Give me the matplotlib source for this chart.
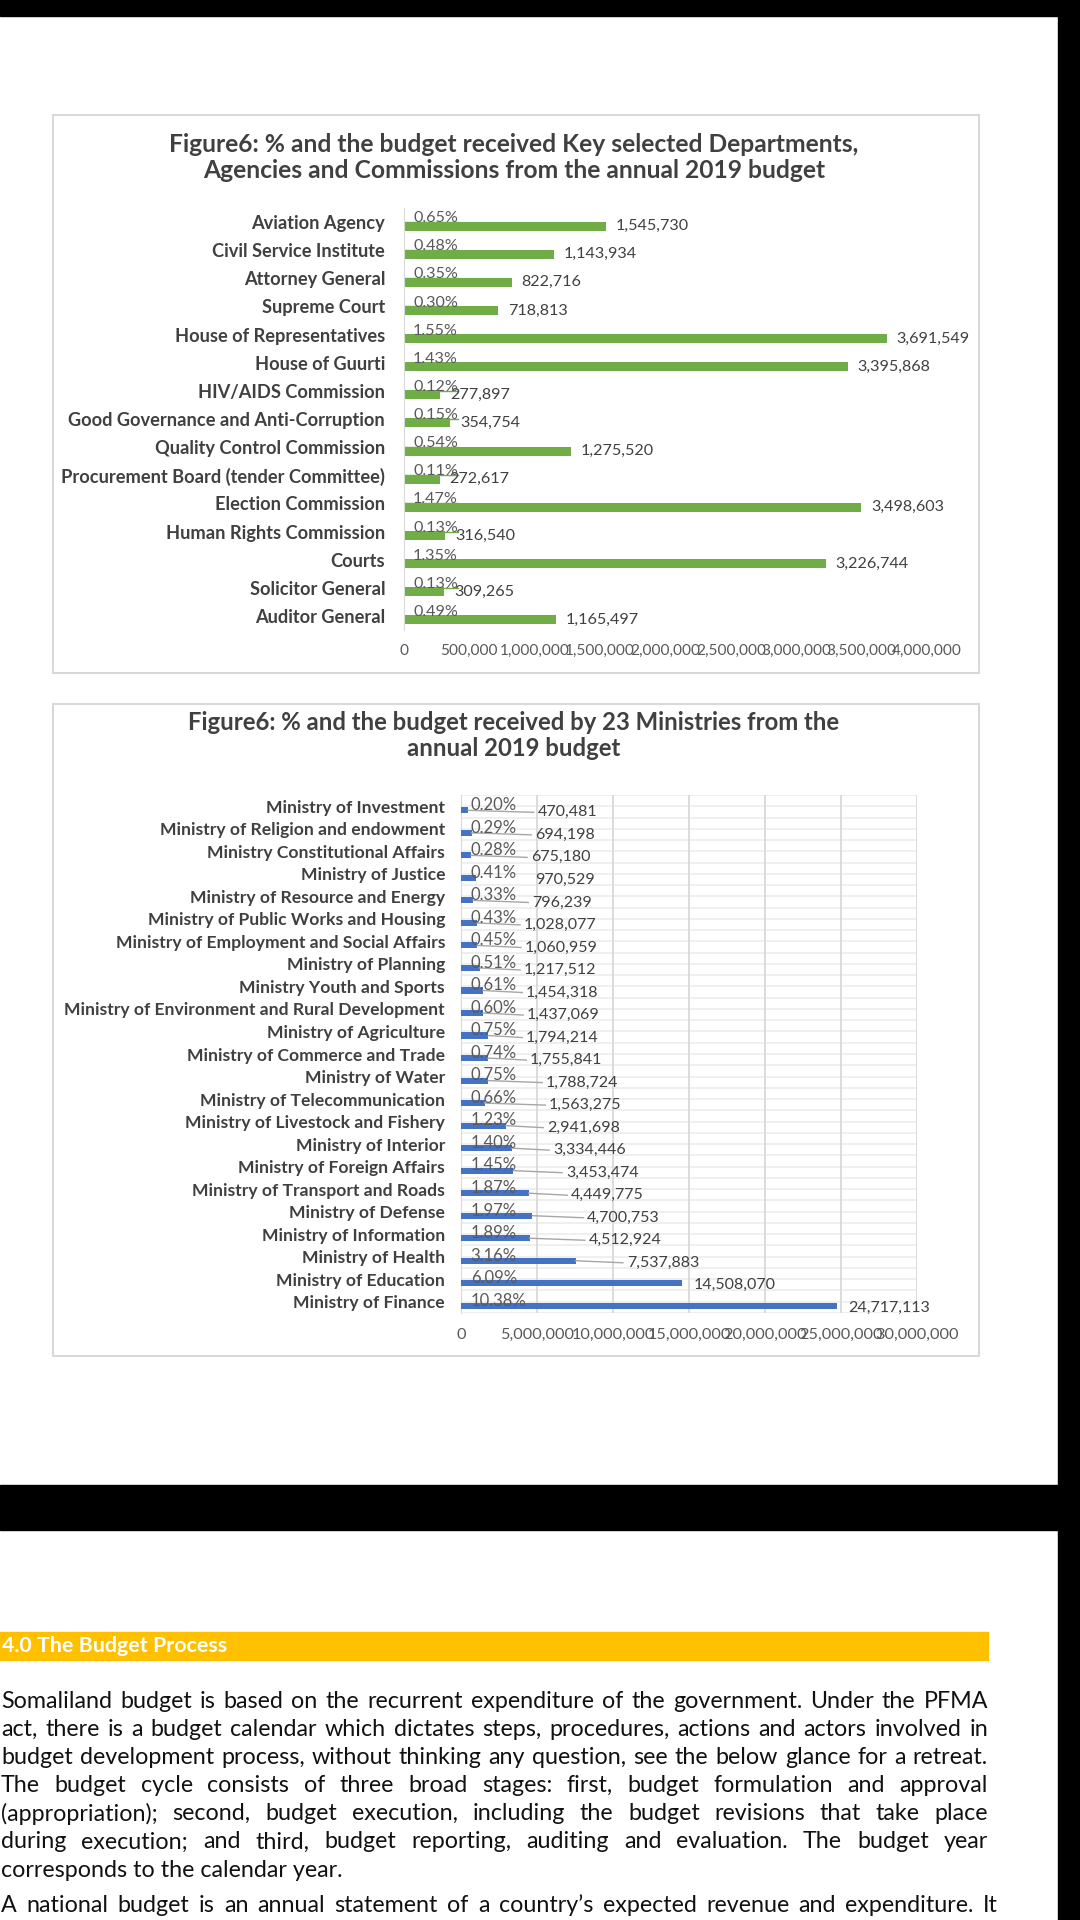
import numpy as np
import matplotlib.pyplot as plt
from matplotlib.patches import Rectangle

plt.rcParams['font.family'] = ['Lato', 'DejaVu Sans']

# chart 1 - departments, agencies and commissions
dept_names = ['Aviation Agency', 'Civil Service Institute', 'Attorney General', 'Supreme Court',
              'House of Representatives', 'House of Guurti', 'HIV/AIDS Commission',
              'Good Governance and Anti-Corruption', 'Quality Control Commission',
              'Procurement Board (tender Committee)', 'Election Commission',
              'Human Rights Commission', 'Courts', 'Solicitor General', 'Auditor General']
dept_amount = [1545730, 1143934, 822716, 718813, 3691549, 3395868, 277897, 354754,
               1275520, 272617, 3498603, 316540, 3226744, 309265, 1165497]
dept_pct = [0.65, 0.48, 0.35, 0.30, 1.55, 1.43, 0.12, 0.15, 0.54, 0.11, 1.47, 0.13, 1.35, 0.13, 0.49]

# chart 2 - ministries
min_names = ['Ministry of Investment', 'Ministry of Religion and endowment',
             'Ministry Constitutional Affairs', 'Ministry of Justice',
             'Ministry of Resource and Energy', 'Ministry of Public Works and Housing',
             'Ministry of Employment and Social Affairs', 'Ministry of Planning',
             'Ministry Youth and Sports', 'Ministry of Environment and Rural Development',
             'Ministry of Agriculture', 'Ministry of Commerce and Trade', 'Ministry of Water',
             'Ministry of Telecommunication', 'Ministry of Livestock and Fishery',
             'Ministry of Interior', 'Ministry of Foreign Affairs',
             'Ministry of Transport and Roads', 'Ministry of Defense', 'Ministry of Information',
             'Ministry of Health', 'Ministry of Education', 'Ministry of Finance']
min_amount = [470481, 694198, 675180, 970529, 796239, 1028077, 1060959, 1217512, 1454318,
              1437069, 1794214, 1755841, 1788724, 1563275, 2941698, 3334446, 3453474,
              4449775, 4700753, 4512924, 7537883, 14508070, 24717113]
min_pct = [0.20, 0.29, 0.28, 0.41, 0.33, 0.43, 0.45, 0.51, 0.61, 0.60, 0.75, 0.74, 0.75,
           0.66, 1.23, 1.40, 1.45, 1.87, 1.97, 1.89, 3.16, 6.09, 10.38]
# where the (dragged) amount labels start, in millions
min_label_at = [5.03, 4.87, 4.6, 4.87, 4.67, 4.14, 4.2, 4.14, 4.28, 4.34, 4.28, 4.54,
                5.6, 5.8, 5.66, 6.05, 6.9, 7.24, 8.3, 8.4, 10.9, 15.3, 25.5]

title1 = ['Figure6: % and the budget received Key selected Departments,',
          'Agencies and Commissions from the annual 2019 budget']
title2 = ['Figure6: % and the budget received by 23 Ministries from the',
          'annual 2019 budget']

heading = '4.0 The Budget Process'
para = ['Somaliland budget is based on the recurrent expenditure of the government. Under the PFMA',
        'act, there is a budget calendar which dictates steps, procedures, actions and actors involved in',
        'budget development process, without thinking any question, see the below glance for a retreat.',
        'The budget cycle consists of three broad stages: first, budget formulation and approval',
        '(appropriation); second, budget execution, including the budget revisions that take place',
        'during execution; and third, budget reporting, auditing and evaluation. The budget year',
        'corresponds to the calendar year.']
para2 = ['A national budget is an annual statement of a country\u2019s expected revenue and expenditure. It']

W, H = 1080, 1920
fig = plt.figure(figsize=(W / 100, H / 100), dpi=100)
page = fig.add_axes([0, 0, 1, 1])
page.set_xlim(0, W)
page.set_ylim(H, 0)
page.axis('off')
rend = fig.canvas.get_renderer()


def width_px(text, size, weight='normal'):
    t = page.text(0, 0, text, fontsize=size, fontweight=weight)
    w = t.get_window_extent(renderer=rend).width
    t.remove()
    return w


def fit(text, px, weight='normal'):
    return 10 * px / width_px(text, 10, weight)


def px_axes(l, t, r, b):
    return fig.add_axes([l / W, 1 - b / H, (r - l) / W, (b - t) / H])


# page furniture
page.add_patch(Rectangle((0, 0), W, 16, color='black'))
page.add_patch(Rectangle((1058, 0), 22, H, color='black'))
page.add_patch(Rectangle((0, 1485), 1058, 45, color='black'))
page.add_patch(Rectangle((53, 115), 926, 558, facecolor='white', edgecolor='#d9d9d9', lw=1.5))
page.add_patch(Rectangle((53, 704), 926, 652, facecolor='white', edgecolor='#d9d9d9', lw=1.5))

DARK = '#404040'
GREY = '#595959'

ts1 = fit(title1[0], 695, 'bold')
page.text(514, 144, title1[0], fontsize=ts1, fontweight='bold', color=DARK, ha='center', va='center')
page.text(514, 171, title1[1], fontsize=ts1, fontweight='bold', color=DARK, ha='center', va='center')
ts2 = fit(title2[0], 653, 'bold')
page.text(514, 722, title2[0], fontsize=ts2, fontweight='bold', color=DARK, ha='center', va='center')
page.text(514, 748, title2[1], fontsize=ts2, fontweight='bold', color=DARK, ha='center', va='center')

# ---------- chart 1 ----------
n1 = len(dept_names)
y1 = np.arange(n1)
ax1 = px_axes(404, 208, 927, 630)
ax1.patch.set_visible(False)
ax1.barh(y1 + 0.14, dept_amount, height=0.32, color='#70ad47')
ax1.set_xlim(0, 4000000)
ax1.set_ylim(n1 - 0.5, -0.5)
t1 = np.arange(0, 4000001, 500000)
ax1.set_xticks(t1)
ax1.set_xticklabels([f'{v:,}' for v in t1])
ax1.set_yticks(y1)
ax1.set_yticklabels(dept_names, fontweight='bold', color=DARK,
                    fontsize=fit('Good Governance and Anti-Corruption', 317, 'bold'))
ax1.tick_params(axis='x', length=0, pad=10, labelcolor=GREY, labelsize=fit('4,000,000', 69))
ax1.tick_params(axis='y', length=0, pad=13.5)
for s in ['top', 'right', 'bottom']:
    ax1.spines[s].set_visible(False)
ax1.spines['left'].set_color('#d9d9d9')

amt1 = fit('1,545,730', 73)
pct1 = fit('0.65%', 45)
unit1 = 523 / 4000000
for i in range(n1):
    ax1.annotate(f'{dept_amount[i]:,}', (dept_amount[i], i + 0.14), xytext=(7, 0),
                 textcoords='offset points', va='center', fontsize=amt1, color=DARK)
    lab = f'{dept_pct[i]:.2f}%'
    ax1.annotate(lab, (0, i - 0.14), xytext=(6.5, 0), textcoords='offset points',
                 va='center', fontsize=pct1, color=GREY)
    xe = (9 + width_px(lab, pct1)) / unit1
    ax1.plot([0, xe], [i, i], color='#70ad47', lw=1)

# ---------- chart 2 ----------
n2 = len(min_names)
y2 = np.arange(n2)
ax2 = px_axes(461, 795, 917, 1313)
ax2.patch.set_visible(False)
ax2.set_xlim(0, 30000000)
ax2.set_ylim(n2 - 0.5, -0.5)
for k in np.arange(-0.5, n2, 0.5):
    ax2.axhline(k, color='#eeeeee', lw=1.3, zorder=0)
ax2.grid(axis='x', color='#d9d9d9', lw=1.3, zorder=0)
ax2.set_axisbelow(True)
ax2.barh(y2 + 0.18, min_amount, height=0.27, color='#4472c4', zorder=3)
t2 = np.arange(0, 30000001, 5000000)
ax2.set_xticks(t2)
ax2.set_xticklabels([f'{v:,}' for v in t2])
ax2.set_yticks(y2)
ax2.set_yticklabels(min_names, fontweight='bold', color=DARK,
                    fontsize=fit('Ministry of Environment and Rural Development', 380, 'bold'))
ax2.tick_params(axis='x', length=0, pad=11, labelcolor=GREY, labelsize=fit('30,000,000', 82))
ax2.tick_params(axis='y', length=0, pad=11.5)
for s in ['top', 'right', 'bottom']:
    ax2.spines[s].set_visible(False)
ax2.spines['left'].set_color('#d9d9d9')

amt2 = fit('24,717,113', 82)
pct2 = fit('0.20%', 46)
for i in range(n2):
    lx = min_label_at[i] * 1e6
    if lx - min_amount[i] > 1e6 and i != 3:
        ax2.plot([min_amount[i], lx - 0.25e6], [i + 0.18, i + 0.27], color='#a6a6a6', lw=1, zorder=4)
    ax2.text(lx, i + 0.27, f'{min_amount[i]:,}', va='center', ha='left', fontsize=amt2, color=DARK)
    ax2.annotate(f'{min_pct[i]:.2f}%', (0, i - 0.05), xytext=(7, 0), textcoords='offset points',
                 va='center', fontsize=pct2, color=GREY, zorder=5)

# ---------- text section ----------
page.add_patch(Rectangle((0, 1632), 988, 28, color='#ffc000'))
page.text(2, 1646, heading, fontsize=fit(heading, 226, 'bold'), fontweight='bold',
          color='white', va='center', ha='left')

ps = fit(para[2], 975)


def justify(line, y, x0=1, x1=988):
    words = line.split()
    ws = [width_px(w, ps) for w in words]
    gap = (x1 - x0 - sum(ws)) / (len(words) - 1)
    x = x0
    for w, wp in zip(words, ws):
        page.text(x, y, w, fontsize=ps, color='#111111', va='center', ha='left')
        x += wp + gap


for k, line in enumerate(para):
    y = 1701 + 28.2 * k
    if k < len(para) - 1:
        justify(line, y)
    else:
        page.text(1, y, line, fontsize=ps, color='#111111', va='center', ha='left')
justify(para2[0], 1905, x1=998)

fig.savefig('out.png', dpi=100)
